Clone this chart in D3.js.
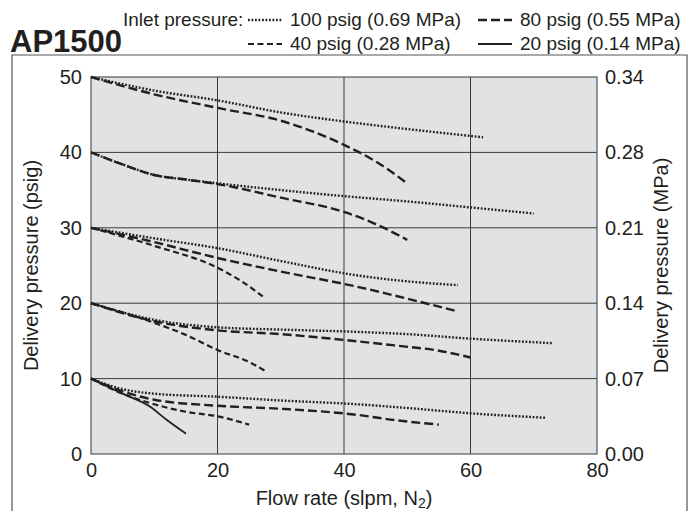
<!DOCTYPE html>
<html>
<head>
<meta charset="utf-8">
<script src="https://d3js.org/d3.v7.min.js"></script>
<style>
  body { margin: 0; background: #fff; }
  text { font-family: "Liberation Sans", Arial, sans-serif; fill: #231f20; }
</style>
</head>
<body>
<script>
// flow rate (slpm) and delivery pressure (psig) per curve
var xTicks = [0, 20, 40, 60, 80];
var yTicks = [0, 10, 20, 30, 40, 50];
var mpaLabels = ["0.00", "0.07", "0.14", "0.21", "0.28", "0.34"];

// set pressure 50 psig
var s50_100_flow = [0, 10, 20, 30, 40, 50, 62];
var s50_100_p    = [50, 48.2, 46.9, 45.3, 44.1, 43.1, 42.0];
var s50_80_flow  = [0, 10, 20, 30, 35, 40, 45, 50];
var s50_80_p     = [50, 47.7, 45.9, 44.2, 42.8, 41.0, 38.8, 35.9];
// set pressure 40 psig
var s40_100_flow = [0, 5, 10, 15, 20, 30, 40, 50, 60, 70];
var s40_100_p    = [40, 38.4, 37.0, 36.4, 35.9, 35.0, 34.2, 33.5, 32.7, 31.9];
var s40_80_flow  = [0, 5, 10, 15, 20, 30, 40, 45, 50];
var s40_80_p     = [40, 38.4, 37.0, 36.4, 35.8, 34.0, 32.1, 30.5, 28.4];
// set pressure 30 psig
var s30_100_flow = [0, 10, 20, 30, 42, 50, 58];
var s30_100_p    = [30, 28.6, 27.3, 25.6, 23.7, 22.9, 22.4];
var s30_80_flow  = [0, 10, 20, 30, 42, 50, 58];
var s30_80_p     = [30, 28.1, 26.0, 24.2, 22.2, 20.6, 18.9];
var s30_40_flow  = [0, 10, 20, 24, 27.6];
var s30_40_p     = [30, 27.6, 24.7, 22.8, 20.6];
// set pressure 20 psig
var s20_100_flow = [0, 10, 20, 30, 42, 50, 60, 73];
var s20_100_p    = [20, 17.8, 16.8, 16.5, 16.2, 15.9, 15.3, 14.7];
var s20_80_flow  = [0, 10, 20, 30, 38, 48, 55, 60];
var s20_80_p     = [20, 17.6, 16.4, 15.9, 15.3, 14.4, 13.7, 12.8];
var s20_40_flow  = [0, 10, 15, 20, 25, 27.8];
var s20_40_p     = [20, 17.4, 15.8, 13.8, 12.2, 10.9];
// set pressure 10 psig
var s10_100_flow = [0, 5, 10, 20, 30, 42, 50, 60, 72];
var s10_100_p    = [10, 8.6, 8.0, 7.6, 7.1, 6.6, 6.1, 5.4, 4.8];
var s10_80_flow  = [0, 5, 10, 20, 30, 42, 48, 55];
var s10_80_p     = [10, 8.3, 7.2, 6.4, 6.0, 5.2, 4.5, 3.9];
var s10_40_flow  = [0, 5, 10, 15, 20, 25];
var s10_40_p     = [10, 8.0, 6.6, 5.6, 5.0, 3.9];
var s10_20_flow  = [0, 5, 9.3, 12, 15];
var s10_20_p     = [10, 8.0, 6.3, 4.5, 2.7];

var styles = {
  "100": { dash: "1.8,1.7", width: 2.4 },
  "80":  { dash: "9,4",     width: 2.4 },
  "40":  { dash: "6,3.5",   width: 2.2 },
  "20":  { dash: null,      width: 1.8 }
};

var curves = [
  ["100", s50_100_flow, s50_100_p], ["80", s50_80_flow, s50_80_p],
  ["100", s40_100_flow, s40_100_p], ["80", s40_80_flow, s40_80_p],
  ["100", s30_100_flow, s30_100_p], ["80", s30_80_flow, s30_80_p], ["40", s30_40_flow, s30_40_p],
  ["100", s20_100_flow, s20_100_p], ["80", s20_80_flow, s20_80_p], ["40", s20_40_flow, s20_40_p],
  ["100", s10_100_flow, s10_100_p], ["80", s10_80_flow, s10_80_p], ["40", s10_40_flow, s10_40_p],
  ["20", s10_20_flow, s10_20_p]
];

var w = 699, h = 511;
var pLeft = 91, pRight = 597, pTop = 77, pBottom = 454;

var svg = d3.select("body").append("svg")
  .attr("width", w).attr("height", h);

var x = d3.scaleLinear().domain([0, 80]).range([pLeft, pRight]);
var y = d3.scaleLinear().domain([0, 50]).range([pBottom, pTop]);

// outer frame
svg.append("path")
  .attr("d", "M12,512 V55 H687 V512")
  .attr("fill", "none").attr("stroke", "#555").attr("stroke-width", 1.2);

// plot background
svg.append("rect")
  .attr("x", pLeft).attr("y", pTop)
  .attr("width", pRight - pLeft).attr("height", pBottom - pTop)
  .attr("fill", "#e1e2e4");

// grid
svg.selectAll("line.vg").data(xTicks.slice(1, -1)).enter().append("line")
  .attr("class", "vg")
  .attr("x1", function(d) { return x(d); }).attr("x2", function(d) { return x(d); })
  .attr("y1", pTop).attr("y2", pBottom)
  .attr("stroke", "#3a3a3a").attr("stroke-width", 1);
svg.selectAll("line.hg").data(yTicks.slice(1, -1)).enter().append("line")
  .attr("class", "hg")
  .attr("x1", pLeft).attr("x2", pRight)
  .attr("y1", function(d) { return y(d); }).attr("y2", function(d) { return y(d); })
  .attr("stroke", "#3a3a3a").attr("stroke-width", 1);

svg.append("rect")
  .attr("x", pLeft).attr("y", pTop)
  .attr("width", pRight - pLeft).attr("height", pBottom - pTop)
  .attr("fill", "none").attr("stroke", "#555").attr("stroke-width", 1.2);

// curves
var line = d3.line()
  .x(function(d) { return x(d[0]); })
  .y(function(d) { return y(d[1]); })
  .curve(d3.curveMonotoneX);

curves.forEach(function(c) {
  var pts = c[1].map(function(f, i) { return [f, c[2][i]]; });
  var st = styles[c[0]];
  svg.append("path")
    .attr("d", line(pts))
    .attr("fill", "none")
    .attr("stroke", "#231f20")
    .attr("stroke-width", st.width)
    .attr("stroke-dasharray", st.dash);
});

// axes (labels only, no tick marks)
var fs = 20;
var gl = svg.append("g")
  .attr("transform", "translate(" + pLeft + ",0)")
  .call(d3.axisLeft(y).tickValues(yTicks).tickSize(0).tickPadding(9));
var gr = svg.append("g")
  .attr("transform", "translate(" + pRight + ",0)")
  .call(d3.axisRight(y).tickValues(yTicks).tickSize(0).tickPadding(8)
    .tickFormat(function(d, i) { return mpaLabels[i]; }));
var gb = svg.append("g")
  .attr("transform", "translate(0," + pBottom + ")")
  .call(d3.axisBottom(x).tickValues(xTicks).tickSize(0).tickPadding(9));
[gl, gr, gb].forEach(function(g) {
  g.select(".domain").remove();
  g.selectAll("text")
    .style("font-family", "'Liberation Sans', Arial, sans-serif")
    .style("font-size", fs + "px").attr("fill", "#231f20");
});

// axis titles
svg.append("text")
  .attr("transform", "translate(38," + ((pTop + pBottom) / 2) + ") rotate(-90)")
  .attr("text-anchor", "middle").style("font-size", fs + "px")
  .text("Delivery pressure (psig)");
svg.append("text")
  .attr("transform", "translate(668," + ((pTop + pBottom) / 2) + ") rotate(-90)")
  .attr("text-anchor", "middle").style("font-size", fs + "px")
  .text("Delivery pressure (MPa)");
var xt = svg.append("text")
  .attr("x", (pLeft + pRight) / 2).attr("y", 505)
  .attr("text-anchor", "middle").style("font-size", fs + "px");
xt.append("tspan").text("Flow rate (slpm, N");
xt.append("tspan").attr("dy", 3).style("font-size", "14px").text("2");
xt.append("tspan").attr("dy", -3).text(")");

// title
svg.append("text")
  .attr("x", 10).attr("y", 52)
  .style("font-size", "31px").style("font-weight", "bold")
  .text("AP1500");

// legend
svg.append("text").attr("x", 123).attr("y", 26).style("font-size", "19px")
  .text("Inlet pressure:");
var legend = [
  { key: "100", x: 248, y: 20, label: "100 psig (0.69 MPa)" },
  { key: "80",  x: 478, y: 20, label: "80 psig (0.55 MPa)" },
  { key: "40",  x: 248, y: 44, label: "40 psig (0.28 MPa)" },
  { key: "20",  x: 478, y: 44, label: "20 psig (0.14 MPa)" }
];
legend.forEach(function(l) {
  var st = styles[l.key];
  svg.append("line")
    .attr("x1", l.x).attr("x2", l.x + 34)
    .attr("y1", l.y).attr("y2", l.y)
    .attr("stroke", "#231f20").attr("stroke-width", st.width)
    .attr("stroke-dasharray", st.dash);
  svg.append("text").attr("x", l.x + 42).attr("y", l.y + 6)
    .style("font-size", "19px").text(l.label);
});
</script>
</body>
</html>
